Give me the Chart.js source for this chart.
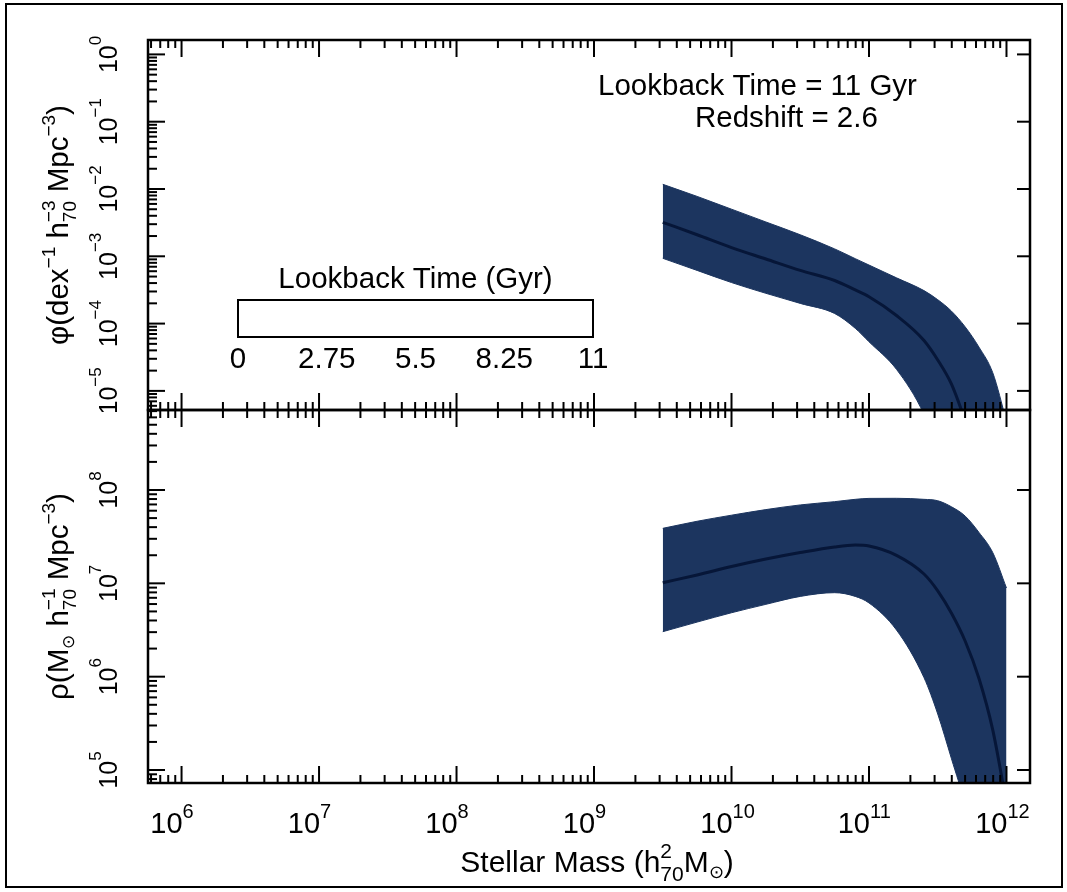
<!DOCTYPE html>
<html>
<head>
<meta charset="utf-8">
<script src="https://cdn.jsdelivr.net/npm/chart.js@4.4.1/dist/chart.umd.min.js"></script>
<style>
  body { margin: 0; background: #fff; }
  #page { position: relative; width: 1067px; height: 892px; overflow: hidden; }
  #frame { position: absolute; left: 5px; top: 3px; width: 1058px; height: 885px; border: 2px solid #000; box-sizing: border-box; }
  canvas { position: absolute; left: 0; }
  #phi-chart { top: 0; }
  #rho-chart { top: 408px; }
</style>
</head>
<body>
<div id="page">
  <div id="frame"></div>
  <canvas id="phi-chart" width="1067" height="412"></canvas>
  <canvas id="rho-chart" width="1067" height="484"></canvas>
</div>
<script>
// Stellar mass function / mass density at lookback time 11 Gyr
// all values are log10

// x: log10 stellar mass
const logMass = [9.5, 9.75, 10.0, 10.25, 10.5, 10.75, 10.9, 11.0, 11.2, 11.4, 11.5, 11.6, 11.7, 11.8, 11.9, 12.0];

// top panel: log10 phi (dex^-1 h^3 Mpc^-3)
const phiUpper  = [-1.93, -2.11, -2.30, -2.49, -2.68, -2.89, -3.035, -3.13, -3.32, -3.51, -3.645, -3.815, -4.05, -4.35, -4.73, -5.45];
const phiMedian = [-2.495, -2.68, -2.87, -3.04, -3.21, -3.36, -3.50, -3.60, -3.88, -4.25, -4.54, -4.90, -5.45, -6.10, -6.80, -7.60];
const phiLower  = [-3.03, -3.21, -3.39, -3.55, -3.70, -3.85, -4.07, -4.27, -4.68, -5.35, -5.90, -6.50, -7.20, -8.00, -9.00, -10.0];

// bottom panel: log10 rho (Msun h^-1 Mpc^-3)
const rhoUpper  = [7.589, 7.665, 7.73, 7.79, 7.84, 7.875, 7.90, 7.91, 7.911, 7.90, 7.885, 7.82, 7.72, 7.545, 7.33, 6.95];
const rhoMedian = [7.007, 7.09, 7.18, 7.26, 7.33, 7.39, 7.41, 7.40, 7.30, 7.10, 6.92, 6.68, 6.38, 5.98, 5.43, 4.64];
const rhoLower  = [6.482, 6.585, 6.685, 6.775, 6.86, 6.90, 6.86, 6.79, 6.50, 5.99, 5.60, 5.12, 4.63, 4.00, 3.40, 2.70];

// axis decades (tick labels are 10^n)
const massDecades = [6, 7, 8, 9, 10, 11, 12];
const phiDecades = [-5, -4, -3, -2, -1, 0];
const rhoDecades = [5, 6, 7, 8];

// colour bar legend
const lookbackTicks = [0, 2.75, 5.5, 8.25, 11];
const lookbackMax = 11;
const infoLines = ['Lookback Time = 11 Gyr', 'Redshift = 2.6'];

const bandColor = '#1c355f';
const medianColor = '#061638';
const FONT = "'Liberation Sans', Arial, Helvetica, sans-serif";

// --- text helpers ---
function setFont(ctx, size) {
  ctx.font = size + 'px ' + FONT;
}
function txt(text, size, dy) { return { text, size, dy: dy || 0 }; }
function stk(supText, subText, size, supDy, subDy) { return { stack: [supText, subText], size, supDy, subDy }; }

function partWidth(ctx, p) {
  setFont(ctx, p.size);
  if (p.stack) {
    return Math.max(ctx.measureText(p.stack[0]).width, ctx.measureText(p.stack[1]).width);
  }
  return ctx.measureText(p.text).width;
}

function drawParts(ctx, parts, x, y, align) {
  const widths = parts.map(p => partWidth(ctx, p));
  const total = widths.reduce((s, w) => s + w, 0);
  let cx = align === 'center' ? x - total / 2 : x;
  ctx.textAlign = 'left';
  ctx.textBaseline = 'alphabetic';
  parts.forEach((p, i) => {
    setFont(ctx, p.size);
    if (p.stack) {
      ctx.fillText(p.stack[0], cx, y + p.supDy);
      ctx.fillText(p.stack[1], cx, y + p.subDy);
    } else {
      ctx.fillText(p.text, cx, y + p.dy);
    }
    cx += widths[i];
  });
}

function expText(d) {
  return d < 0 ? '\u2212' + (-d) : String(d);
}

function logTicks(min, max) {
  const ticks = [];
  for (let d = Math.floor(min); d <= Math.ceil(max); d++) {
    for (let k = 1; k <= 9; k++) {
      const v = d + Math.log10(k);
      if (v >= min && v <= max) ticks.push({ v, major: k === 1 });
    }
  }
  return ticks;
}

function line(ctx, x1, y1, x2, y2) {
  ctx.beginPath();
  ctx.moveTo(x1, y1);
  ctx.lineTo(x2, y2);
  ctx.stroke();
}

// Frame, inward ticks, labels and titles for one panel
const panelFrame = {
  id: 'panelFrame',
  afterDatasetsDraw(chart, args, opts) {
    const { ctx, chartArea: a } = chart;
    const x = chart.scales.x;
    const y = chart.scales.y;
    ctx.save();
    ctx.strokeStyle = '#000';
    ctx.fillStyle = '#000';
    ctx.lineWidth = 2;

    // x ticks on top and bottom edge
    logTicks(x.min, x.max).forEach(t => {
      const px = x.getPixelForValue(t.v);
      const len = t.major ? 17 : 8;
      line(ctx, px, a.top, px, a.top + len);
      line(ctx, px, a.bottom, px, a.bottom - len);
    });
    // y ticks: left all, right decades only
    logTicks(y.min, y.max).forEach(t => {
      const py = y.getPixelForValue(t.v);
      line(ctx, a.left, py, a.left + (t.major ? 17 : 9), py);
      if (t.major) line(ctx, a.right, py, a.right - 13, py);
    });

    ctx.lineWidth = 2.5;
    ctx.strokeRect(a.left, a.top, a.right - a.left, a.bottom - a.top);

    // y tick labels, rotated
    opts.yDecades.forEach(d => {
      const py = y.getPixelForValue(d);
      ctx.save();
      ctx.translate(a.left - 31, py);
      ctx.rotate(-Math.PI / 2);
      drawParts(ctx, [txt('10', 25), txt(expText(d), 17, -16)], 0, 0, 'center');
      ctx.restore();
    });

    // y title
    ctx.save();
    ctx.translate(68, (a.top + a.bottom) / 2);
    ctx.rotate(-Math.PI / 2);
    drawParts(ctx, opts.yTitle, 0, 0, 'center');
    ctx.restore();

    // x tick labels ("10" ends at the tick) and title (bottom panel only)
    if (opts.xLabels) {
      massDecades.forEach(d => {
        const px = x.getPixelForValue(d);
        const base = txt('10', 29);
        drawParts(ctx, [base, txt(expText(d), 20, -15)], px - partWidth(ctx, base) + 1, a.bottom + 50, 'left');
      });
      drawParts(ctx, [
        txt('Stellar Mass (h', 30),
        stk('2', '70', 21, -14, 9),
        txt('M', 30),
        txt('\u2299', 18, 6),
        txt(')', 30)
      ], (a.left + a.right) / 2 + 8, a.bottom + 89, 'center');
    }

    // legend box and info text (top panel only)
    if (opts.legend) {
      const box = { left: 238, top: 300, right: 593, bottom: 337 };
      ctx.lineWidth = 2;
      ctx.strokeRect(box.left, box.top, box.right - box.left, box.bottom - box.top);
      drawParts(ctx, [txt('Lookback Time (Gyr)', 29.5)], (box.left + box.right) / 2, 288, 'center');
      lookbackTicks.forEach(v => {
        const px = box.left + (box.right - box.left) * v / lookbackMax;
        drawParts(ctx, [txt(String(v), 29.5)], px, 368, 'center');
      });
      drawParts(ctx, [txt(infoLines[0], 29.5)], 598, 95, 'left');
      drawParts(ctx, [txt(infoLines[1], 29.5)], 695, 127, 'left');
    }
    ctx.restore();
  }
};

function points(ys) {
  return logMass.map((m, i) => ({ x: m, y: ys[i] }));
}

// median first so that it is drawn on top of the band
function bandDatasets(upper, median, lower) {
  const common = { pointRadius: 0, cubicInterpolationMode: 'monotone' };
  return [
    { ...common, data: points(median), borderColor: medianColor, borderWidth: 3, fill: false },
    { ...common, data: points(upper), borderColor: bandColor, backgroundColor: bandColor, borderWidth: 1, fill: '+1' },
    { ...common, data: points(lower), borderColor: bandColor, borderWidth: 1, fill: false }
  ];
}

function makePanel(canvasId, datasets, yRange, padding, frameOpts) {
  return new Chart(document.getElementById(canvasId).getContext('2d'), {
    type: 'line',
    data: { datasets },
    options: {
      responsive: false,
      animation: false,
      layout: { padding },
      scales: {
        x: { type: 'linear', min: 5.756, max: 12.171, display: false },
        y: { type: 'linear', min: yRange[0], max: yRange[1], display: false }
      },
      plugins: {
        legend: { display: false },
        tooltip: { enabled: false },
        panelFrame: frameOpts
      }
    },
    plugins: [panelFrame]
  });
}

makePanel('phi-chart', bandDatasets(phiUpper, phiMedian, phiLower), [-5.284, 0.214],
  { left: 148, right: 37, top: 40, bottom: 2 },
  {
    yDecades: phiDecades,
    legend: true,
    yTitle: [
      txt('\u03c6(dex', 29.5), txt('\u22121', 19, -13), txt(' h', 29.5),
      stk('\u22123', '70', 19, -13, 8), txt(' Mpc', 29.5), txt('\u22123', 19, -13), txt(')', 29.5)
    ]
  });

makePanel('rho-chart', bandDatasets(rhoUpper, rhoMedian, rhoLower), [4.861, 8.857],
  { left: 148, right: 37, top: 2, bottom: 109 },
  {
    yDecades: rhoDecades,
    xLabels: true,
    yTitle: [
      txt('\u03c1(M', 29.5), txt('\u2299', 17, 6), txt(' h', 29.5),
      stk('\u22121', '70', 19, -13, 8), txt(' Mpc', 29.5), txt('\u22123', 19, -13), txt(')', 29.5)
    ]
  });
</script>
</body>
</html>
